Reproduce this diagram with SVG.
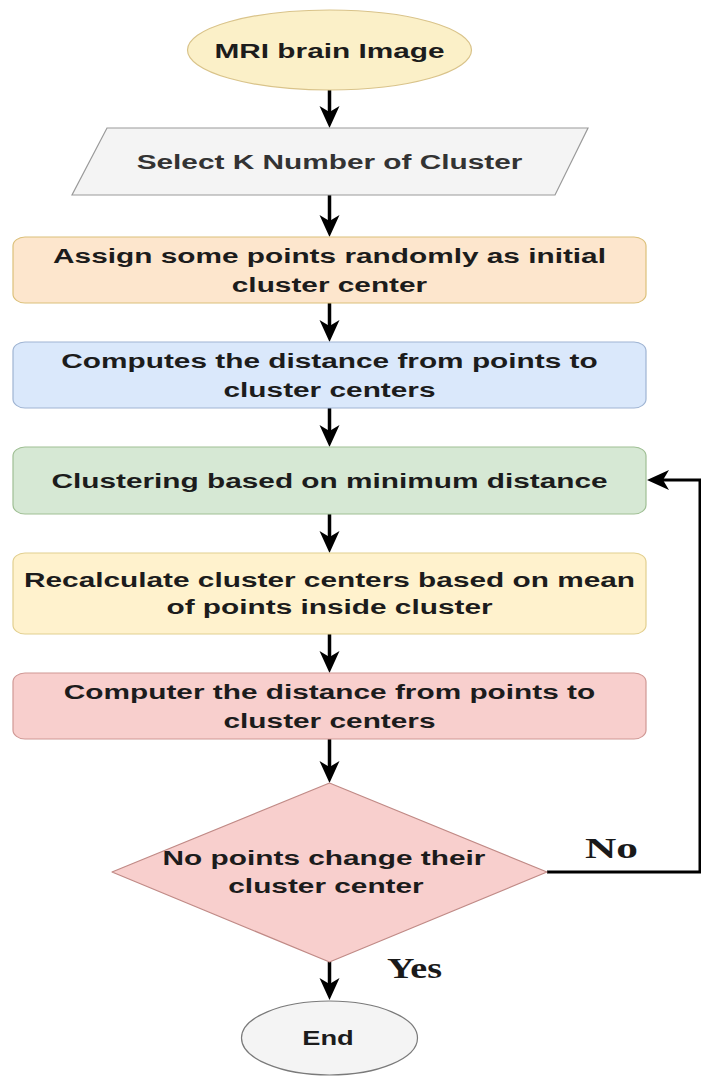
<svg xmlns="http://www.w3.org/2000/svg" width="701" height="1077" viewBox="0 0 701 1077">
<style>
.t{font-family:"Liberation Sans",Arial,sans-serif;font-weight:bold;font-size:21px;fill:#1c1c1c;text-anchor:middle}
.lbl{font-family:"Liberation Serif","Times New Roman",serif;font-weight:bold;font-size:30px;fill:#1a1a1a}
.edge{fill:none;stroke:#000;stroke-width:3.5}
.loop{fill:none;stroke:#000;stroke-width:3}
</style>
<defs>
<marker id="ah" viewBox="0 0 22 22" markerWidth="22" markerHeight="22" markerUnits="userSpaceOnUse" refX="13" refY="11" orient="auto">
<path d="M0,1 L22,11 L0,21 L6,11 Z" fill="#000"/>
</marker>
</defs>
<rect width="701" height="1077" fill="#fff"/>

<g id="connectors">
<line class="edge" x1="329.5" y1="90" x2="329.5" y2="119" marker-end="url(#ah)"/>
<line class="edge" x1="329.5" y1="195" x2="329.5" y2="228" marker-end="url(#ah)"/>
<line class="edge" x1="329.5" y1="303" x2="329.5" y2="333" marker-end="url(#ah)"/>
<line class="edge" x1="329.5" y1="408" x2="329.5" y2="438" marker-end="url(#ah)"/>
<line class="edge" x1="329.5" y1="514" x2="329.5" y2="544" marker-end="url(#ah)"/>
<line class="edge" x1="329.5" y1="634" x2="329.5" y2="664" marker-end="url(#ah)"/>
<line class="edge" x1="329.5" y1="739" x2="329.5" y2="774" marker-end="url(#ah)"/>
<line class="edge" x1="329.5" y1="962" x2="329.5" y2="991" marker-end="url(#ah)"/>
<path class="loop" d="M547,872 H700 V480 H656" marker-end="url(#ah)"/>
<text class="lbl" x="585" y="858" textLength="53" lengthAdjust="spacingAndGlyphs">No</text>
<text class="lbl" x="387" y="978" textLength="55" lengthAdjust="spacingAndGlyphs">Yes</text>
</g>

<g id="start">
<ellipse cx="329.5" cy="50" rx="142" ry="40" fill="#fbf0c8" stroke="#d9c38a" stroke-width="1.2"/>
<text class="t" transform="translate(329.5 58) scale(1.42 1)">MRI brain Image</text>
</g>

<g id="select-k">
<polygon points="107,128 588,128 555,195 72,195" fill="#f4f4f4" stroke="#9a9a9a" stroke-width="1.2"/>
<text class="t" style="fill:#333" transform="translate(329.5 169) scale(1.42 1)">Select K Number of Cluster</text>
</g>

<g id="assign">
<rect x="13" y="237" width="633" height="66" rx="12" ry="9" fill="#fde6cd" stroke="#dcc07a" stroke-width="1.2"/>
<text class="t" transform="translate(329.5 263) scale(1.42 1)">Assign some points randomly as initial</text>
<text class="t" transform="translate(329.5 292) scale(1.42 1)">cluster center</text>
</g>

<g id="compute">
<rect x="13" y="342" width="633" height="66" rx="12" ry="9" fill="#dae8fb" stroke="#9fb4d3" stroke-width="1.2"/>
<text class="t" transform="translate(329.5 368) scale(1.42 1)">Computes the distance from points to</text>
<text class="t" transform="translate(329.5 397) scale(1.42 1)">cluster centers</text>
</g>

<g id="clustering">
<rect x="13" y="447" width="633" height="67" rx="12" ry="9" fill="#d6e8d4" stroke="#9fbf94" stroke-width="1.2"/>
<text class="t" transform="translate(329.5 488) scale(1.42 1)">Clustering based on minimum distance</text>
</g>

<g id="recalculate">
<rect x="13" y="553" width="633" height="81" rx="12" ry="9" fill="#fff2cd" stroke="#e2cf8f" stroke-width="1.2"/>
<text class="t" transform="translate(329.5 587) scale(1.42 1)">Recalculate cluster centers based on mean</text>
<text class="t" transform="translate(329.5 614) scale(1.42 1)">of points inside cluster</text>
</g>

<g id="computer">
<rect x="13" y="673" width="633" height="66" rx="12" ry="9" fill="#f8cfcd" stroke="#d09894" stroke-width="1.2"/>
<text class="t" transform="translate(329.5 699) scale(1.42 1)">Computer the distance from points to</text>
<text class="t" transform="translate(329.5 728) scale(1.42 1)">cluster centers</text>
</g>

<g id="decision">
<polygon points="329.5,783 547,872 329.5,962 112,872" fill="#f8cfcd" stroke="#c08a86" stroke-width="1.2" stroke-linejoin="round"/>
<text class="t" transform="translate(324 865) scale(1.42 1)">No points change their</text>
<text class="t" transform="translate(326 893) scale(1.42 1)">cluster center</text>
</g>

<g id="end">
<ellipse cx="329.5" cy="1038" rx="88" ry="37" fill="#f4f4f4" stroke="#7a7a7a" stroke-width="1.2"/>
<text class="t" transform="translate(328 1045) scale(1.3 1)">End</text>
</g>
</svg>
